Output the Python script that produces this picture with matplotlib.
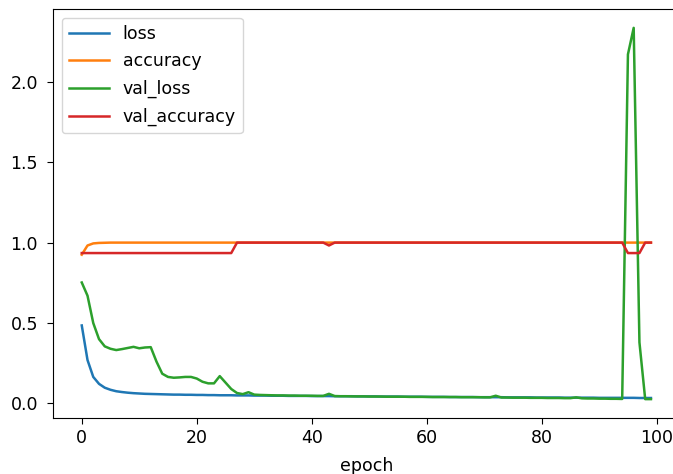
import matplotlib
matplotlib.use('Agg')
import matplotlib.pyplot as plt

epochs = list(range(100))

loss = [0.485, 0.270, 0.165, 0.122, 0.098, 0.085, 0.076, 0.071, 0.067, 0.064,
        0.062, 0.060, 0.059, 0.058, 0.057, 0.056, 0.055, 0.055, 0.054, 0.054,
        0.053, 0.053, 0.052, 0.052, 0.051, 0.051, 0.051, 0.050, 0.050, 0.050,
        0.049, 0.049, 0.049, 0.048, 0.048, 0.048, 0.047, 0.047, 0.047, 0.047,
        0.046, 0.046, 0.046, 0.046, 0.045, 0.045, 0.045, 0.045, 0.044, 0.044,
        0.044, 0.044, 0.043, 0.043, 0.043, 0.043, 0.042, 0.042, 0.042, 0.042,
        0.041, 0.041, 0.041, 0.041, 0.040, 0.040, 0.040, 0.040, 0.040, 0.039,
        0.039, 0.039, 0.039, 0.039, 0.038, 0.038, 0.038, 0.038, 0.038, 0.037,
        0.037, 0.037, 0.037, 0.037, 0.036, 0.036, 0.036, 0.036, 0.036, 0.036,
        0.035, 0.035, 0.035, 0.035, 0.035, 0.035, 0.035, 0.034, 0.034, 0.034]

accuracy = [0.925, 0.982, 0.995, 0.998, 0.999] + [1.0] * 95

val_loss = [0.752, 0.670, 0.500, 0.400, 0.355, 0.340, 0.332, 0.338, 0.345, 0.352,
            0.343, 0.348, 0.350, 0.260, 0.185, 0.165, 0.160, 0.162, 0.165, 0.165,
            0.155, 0.135, 0.125, 0.125, 0.170, 0.130, 0.090, 0.065, 0.058, 0.070,
            0.055, 0.053, 0.052, 0.051, 0.050, 0.050, 0.049, 0.049, 0.048, 0.048,
            0.048, 0.047, 0.047, 0.060, 0.046, 0.045, 0.045, 0.044, 0.044, 0.044,
            0.043, 0.043, 0.043, 0.042, 0.042, 0.042, 0.042, 0.041, 0.041, 0.041,
            0.041, 0.040, 0.040, 0.040, 0.040, 0.040, 0.039, 0.039, 0.039, 0.039,
            0.038, 0.038, 0.048, 0.037, 0.037, 0.036, 0.036, 0.036, 0.035, 0.035,
            0.035, 0.034, 0.034, 0.034, 0.033, 0.033, 0.038, 0.032, 0.031, 0.031,
            0.030, 0.030, 0.029, 0.029, 0.028, 2.170, 2.335, 0.380, 0.027, 0.027]

val_accuracy = ([0.935] * 27 + [1.0] * 16 + [0.982] + [1.0] * 51
                + [0.935, 0.935, 0.935] + [1.0, 1.0])

plt.rcParams['font.size'] = 12.5
plt.rcParams['lines.linewidth'] = 1.8

fig = plt.figure(figsize=(6.73, 4.74), dpi=100)
# right spine sits just past the image edge, as in the reference crop
ax = fig.add_axes([0.0792, 0.1188, 0.9303, 0.8616])

ax.plot(epochs, loss, label='loss')
ax.plot(epochs, accuracy, label='accuracy')
ax.plot(epochs, val_loss, label='val_loss')
ax.plot(epochs, val_accuracy, label='val_accuracy')

ax.tick_params(axis='both', length=4.5)
ax.tick_params(axis='y', pad=6.5)
ax.set_xlabel('epoch', labelpad=7)
ax.legend(loc='upper left', handlelength=2.3, labelspacing=0.55)

fig.savefig('out.png', dpi=100)
plt.close(fig)
